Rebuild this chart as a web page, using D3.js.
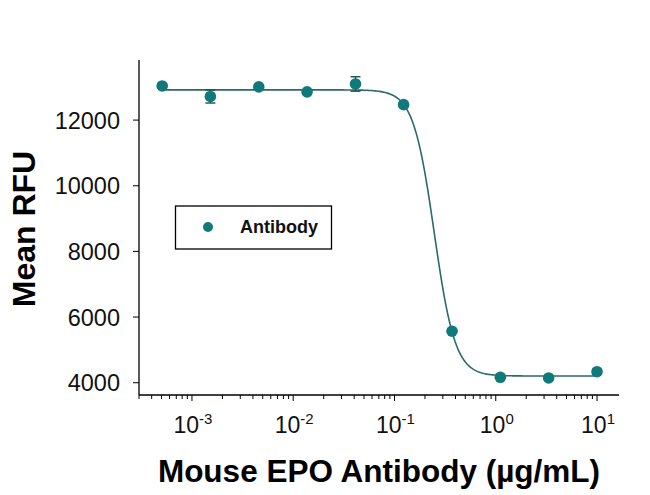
<!DOCTYPE html>
<html><head><meta charset="utf-8">
<script src="https://cdn.jsdelivr.net/npm/d3@7/dist/d3.min.js"></script>
<style>
body{margin:0;background:#fff;}
text{font-family:Arial,"Liberation Sans",sans-serif;}
</style></head>
<body><svg id="c" width="650" height="495"></svg>
<script>
// Data (concentration µg/mL, mean RFU, error)
const conc = [0.000508, 0.00152, 0.00457, 0.0137, 0.0412, 0.123, 0.370, 1.11, 3.33, 10];
const rfu  = [13040, 12720, 13010, 12860, 13100, 12470, 5570, 4165, 4145, 4335];
const err  = [50, 200, 60, 40, 220, 60, 50, 40, 30, 80];
const yTicks = [4000, 6000, 8000, 10000, 12000];
const xDecades = [-3, -2, -1, 0, 1];
// 4PL fit parameters
const fitTop = 12920, fitBottom = 4205, fitIC50 = 0.247, fitHill = 4.2;
const seriesName = "Antibody";

const svg = d3.select("#c");
const color = "#10797a", lineColor = "#2c6a6b";
const x = d3.scaleLog().domain([Math.pow(10,-3.523), Math.pow(10,1.217)]).range([139, 619]);
const y = d3.scaleLinear().domain([3626, 13830]).range([395, 60]);

// axes
const gx = svg.append("g").attr("transform","translate(0,395)");
gx.append("line").attr("x1",139).attr("x2",619).attr("stroke","#000").attr("stroke-width",1.3);
const minor = [];
for (let e=-4; e<=1; e++) for (let m=1; m<=9; m++){ const v=m*Math.pow(10,e); if (v>=x.domain()[0] && v<=x.domain()[1]) minor.push({v, major:m===1}); }
gx.selectAll("line.t").data(minor).enter().append("line").attr("class","t")
  .attr("x1",d=>x(d.v)).attr("x2",d=>x(d.v)).attr("y1",0).attr("y2",d=>d.major?6:4)
  .attr("stroke","#000").attr("stroke-width",1);
const lab = gx.selectAll("text.xl").data(xDecades).enter().append("text").attr("class","xl")
  .attr("x",d=>x(Math.pow(10,d))+1).attr("y",38).attr("text-anchor","middle").attr("font-size",23).attr("fill","#111");
lab.append("tspan").text("10");
lab.append("tspan").attr("dy",-9).attr("font-size",15).text(d=>String(d));

const gy = svg.append("g").attr("transform","translate(139,0)");
gy.append("line").attr("y1",60).attr("y2",395).attr("stroke","#000").attr("stroke-width",1.3);
gy.selectAll("line.t").data(yTicks).enter().append("line").attr("class","t")
  .attr("x1",-6).attr("x2",0).attr("y1",d=>y(d)).attr("y2",d=>y(d)).attr("stroke","#000");
gy.selectAll("text").data(yTicks).enter().append("text")
  .attr("x",-19).attr("y",d=>y(d)).attr("dy","0.36em").attr("text-anchor","end")
  .attr("font-size",23.5).attr("fill","#111").text(d=>d);

// axis titles
svg.append("text").attr("x",379).attr("y",482).attr("text-anchor","middle")
  .attr("font-size",31.5).attr("font-weight","bold").attr("fill","#000").text("Mouse EPO Antibody (µg/mL)");
svg.append("text").attr("transform","translate(35,229) rotate(-90)").attr("text-anchor","middle")
  .attr("font-size",32).attr("font-weight","bold").attr("fill","#000").text("Mean RFU");

// fit curve
const f = c => fitBottom + (fitTop-fitBottom)/(1+Math.pow(c/fitIC50, fitHill));
const lc = d3.range(0,301).map(i => Math.pow(10, Math.log10(conc[0]) + i/300*(Math.log10(conc[conc.length-1])-Math.log10(conc[0]))));
svg.append("path").datum(lc).attr("fill","none").attr("stroke",lineColor).attr("stroke-width",1.6)
  .attr("d", d3.line().x(d=>x(d)).y(d=>y(f(d))));

// error bars
const data = conc.map((c,i)=>({c, v:rfu[i], e:err[i]}));
const eb = svg.append("g").attr("stroke","#1c4f50").attr("stroke-width",1.4);
data.forEach(d=>{
  const cx=x(d.c);
  eb.append("line").attr("x1",cx).attr("x2",cx).attr("y1",y(d.v+d.e)).attr("y2",y(d.v-d.e));
  [d.v+d.e,d.v-d.e].forEach(v=>eb.append("line").attr("x1",cx-5).attr("x2",cx+5).attr("y1",y(v)).attr("y2",y(v)));
});
svg.append("g").selectAll("circle").data(data).enter().append("circle")
  .attr("cx",d=>x(d.c)).attr("cy",d=>y(d.v)).attr("r",5.8).attr("fill",color);

// legend
const lg = svg.append("g");
lg.append("rect").attr("x",175.5).attr("y",206).attr("width",156).attr("height",43)
  .attr("fill","#fff").attr("stroke","#000").attr("stroke-width",1.3);
lg.append("circle").attr("cx",208).attr("cy",227).attr("r",5).attr("fill",color);
lg.append("text").attr("x",240).attr("y",227).attr("dy","0.36em").attr("font-size",18)
  .attr("font-weight","bold").attr("fill","#111").text(seriesName);
</script></body></html>
